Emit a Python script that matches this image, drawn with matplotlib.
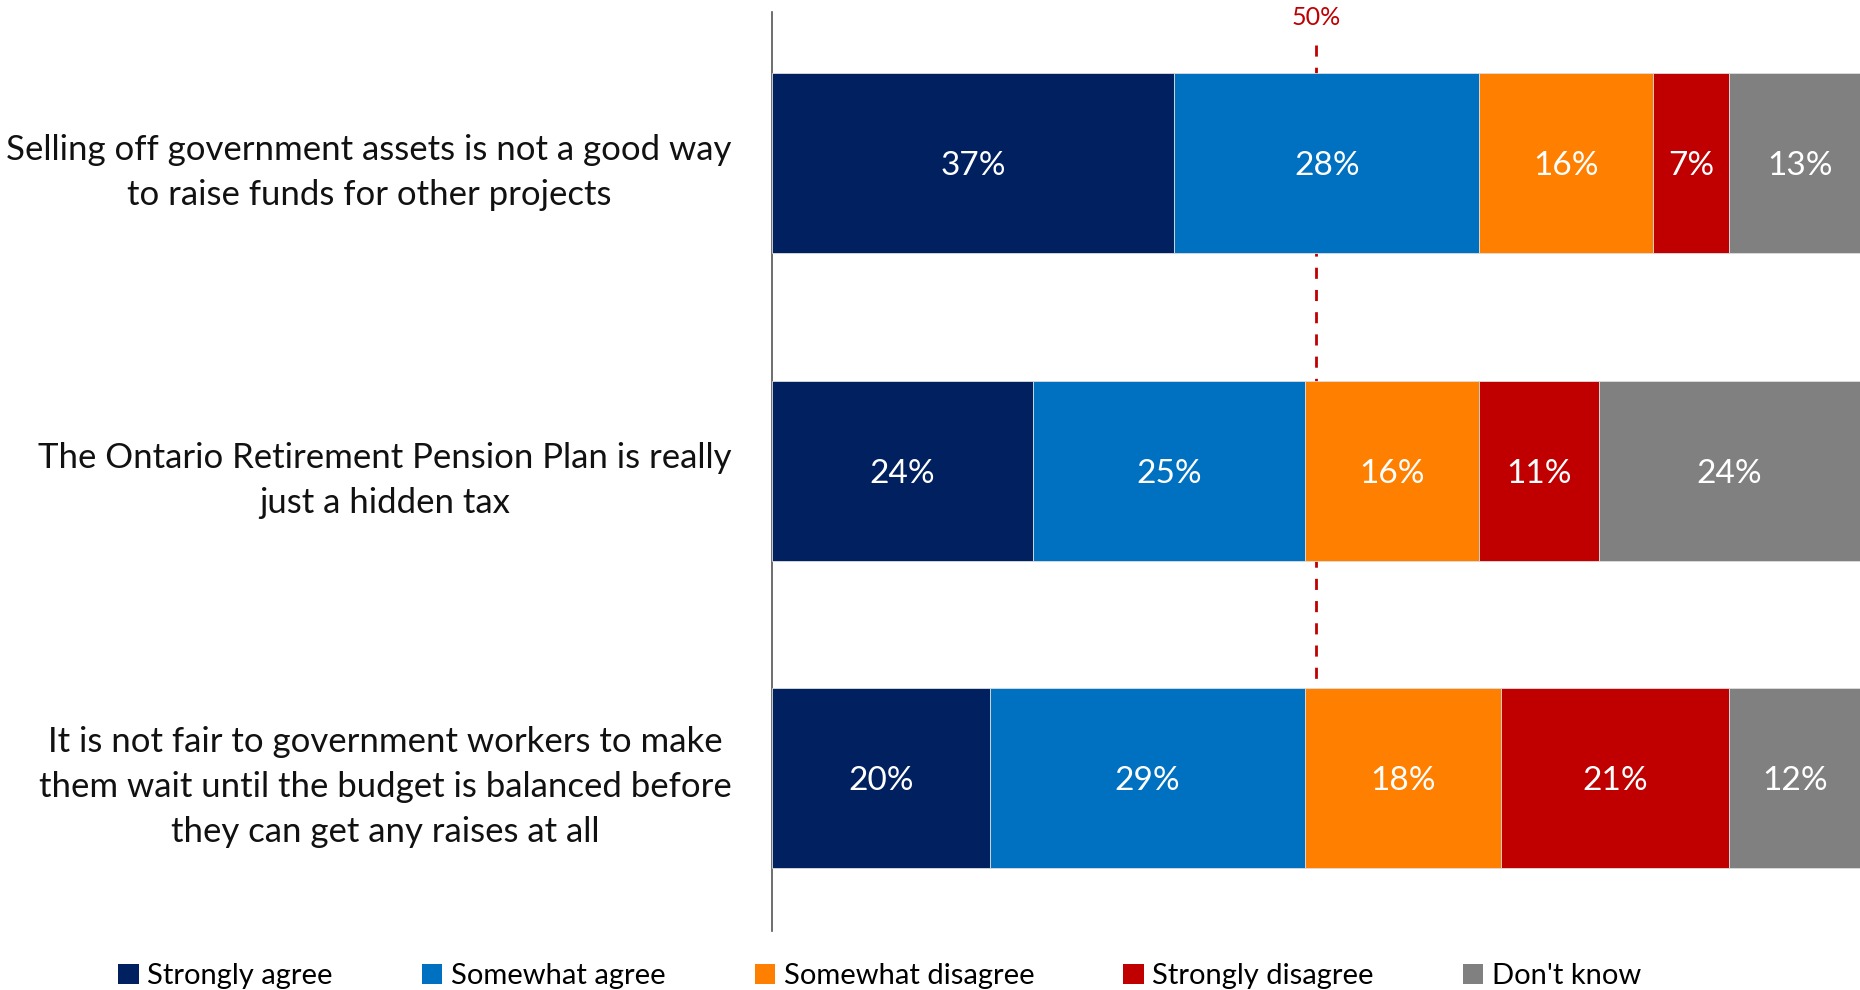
import matplotlib.pyplot as plt
import numpy as np
from matplotlib.patches import Patch

plt.rcParams.update({
    "font.family": ["Lato", "DejaVu Sans"],
    "font.size": 22
})

# ----------------------------------------------------
# Data
# ----------------------------------------------------

statements = [
    "Selling off government assets is not a good way\nto raise funds for other projects",
    "The Ontario Retirement Pension Plan is really\njust a hidden tax",
    "It is not fair to government workers to make\nthem wait until the budget is balanced before\nthey can get any raises at all",
]

responses = ["Strongly agree", "Somewhat agree", "Somewhat disagree",
             "Strongly disagree", "Don't know"]

strongly_agree = [37, 24, 20]
somewhat_agree = [28, 25, 29]
somewhat_disagree = [16, 16, 18]
strongly_disagree = [7, 11, 21]
dont_know = [13, 24, 12]

colors = ["#002060", "#0070C0", "#FF8000", "#C00000", "#808080"]

reference = 50

# ----------------------------------------------------
# Figure
# ----------------------------------------------------

fig = plt.figure(figsize=(18.6, 9.9), dpi=100)
ax = fig.add_axes([0.415, 0.06, 0.585, 0.928])

series = [strongly_agree, somewhat_agree, somewhat_disagree,
          strongly_disagree, dont_know]

y = np.arange(len(statements))
left = np.zeros(len(statements))

for vals, col, name in zip(series, colors, responses):
    vals = np.array(vals, dtype=float)
    bars = ax.barh(y, vals, left=left, height=0.586, color=col,
                   edgecolor="#dddddd", linewidth=0.6, label=name, zorder=3)
    for b, v in zip(bars, vals):
        ax.text(b.get_x() + b.get_width() / 2,
                b.get_y() + b.get_height() / 2, f"{v:.0f}%",
                ha="center", va="center_baseline", color="white",
                fontsize=24, zorder=4, clip_on=True)
    left += vals

# 50% reference line
ax.vlines(reference, -0.386, 2 - 0.293, colors="#C00000",
          linestyles=(0, (4, 4)), linewidth=2, zorder=1)
ax.text(reference, -0.475, f"{reference}%", color="#C00000",
        ha="center", va="center", fontsize=18)

ax.set_xlim(0, 100)
ax.set_ylim(2.498, -0.4935)

ax.set_yticks(y)
ax.set_yticklabels(statements, multialignment="center", fontsize=25,
                   color="#111111", linespacing=1.5)
ax.tick_params(axis="y", length=0, pad=29)
ax.set_xticks([])

for s in ["top", "right", "bottom"]:
    ax.spines[s].set_visible(False)
ax.spines["left"].set_color("#555555")
ax.spines["left"].set_linewidth(1.2)

handles = [Patch(facecolor=c, edgecolor="none") for c in colors]
fig.legend(handles, responses, loc="lower center", ncol=5,
           bbox_to_anchor=(0.473, -0.026), frameon=False, fontsize=21,
           handlelength=0.7, handleheight=0.7, handletextpad=0.3,
           columnspacing=3.05)

plt.savefig("out.png", dpi=100)
